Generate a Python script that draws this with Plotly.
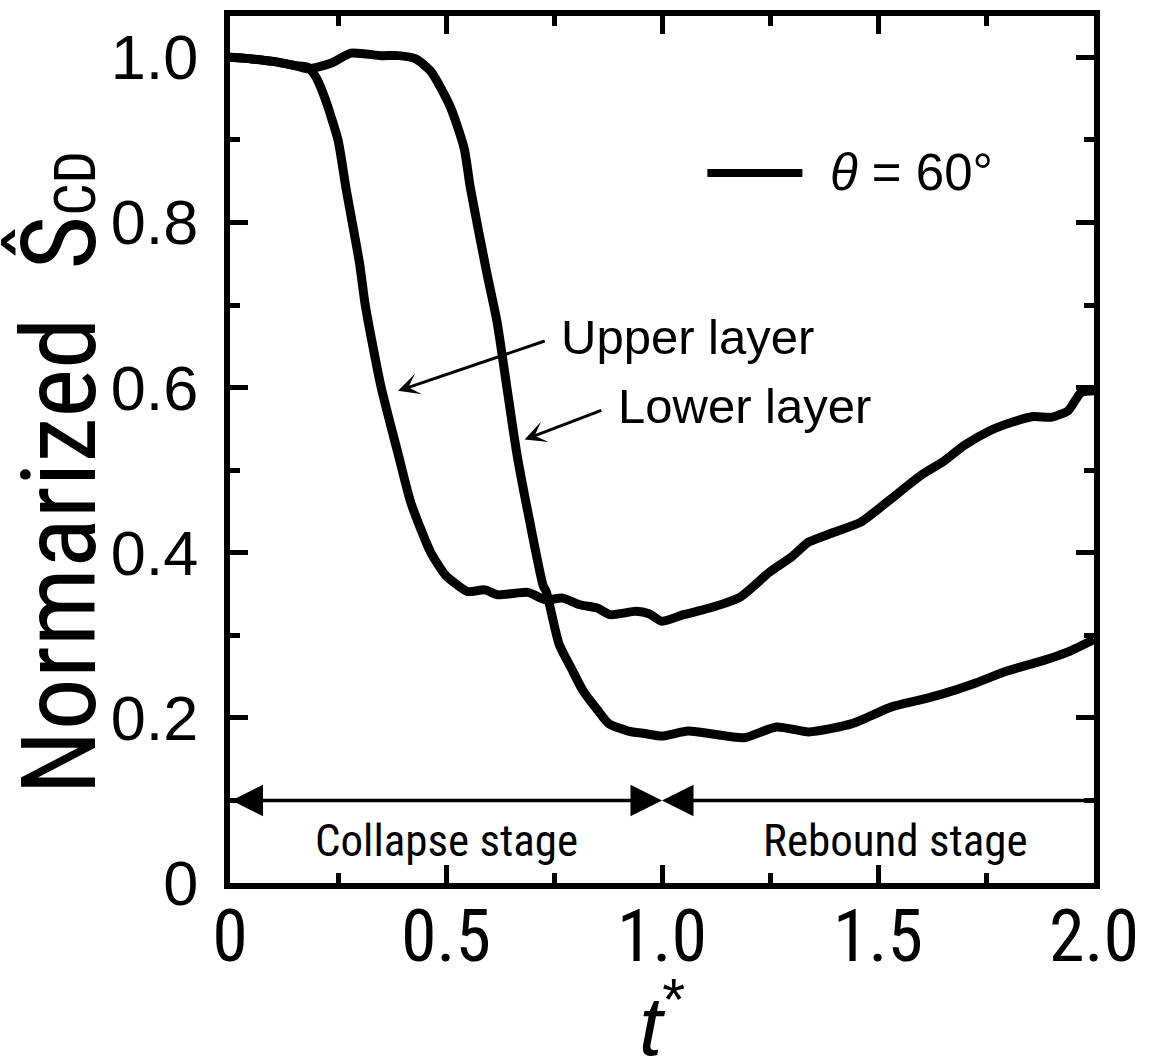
import plotly.graph_objects as go

# ---------------- data ----------------
t_upper = [0.00, 0.05, 0.10, 0.15, 0.18, 0.20, 0.22, 0.25, 0.268, 0.30, 0.313, 0.35,
           0.389, 0.419, 0.465, 0.50, 0.526, 0.55, 0.59, 0.62, 0.66, 0.69, 0.73, 0.77,
           0.81, 0.85, 0.88, 0.94, 0.97, 1.00, 1.05, 1.11, 1.18, 1.25, 1.30, 1.34,
           1.40, 1.46, 1.52, 1.60, 1.65, 1.70, 1.76, 1.81, 1.86, 1.90, 1.94, 1.97, 2.00]
v_upper = [1.000, 0.998, 0.995, 0.990, 0.988, 0.975, 0.950, 0.900, 0.843, 0.750, 0.700, 0.600,
           0.520, 0.460, 0.400, 0.372, 0.361, 0.353, 0.355, 0.349, 0.351, 0.352, 0.343, 0.345,
           0.337, 0.333, 0.325, 0.329, 0.326, 0.317, 0.325, 0.333, 0.346, 0.377, 0.395, 0.413,
           0.425, 0.437, 0.461, 0.494, 0.510, 0.530, 0.548, 0.558, 0.565, 0.564, 0.572, 0.594, 0.596]

t_lower = [0.00, 0.05, 0.10, 0.15, 0.18, 0.235, 0.28, 0.35, 0.39, 0.43, 0.465, 0.51,
           0.542, 0.556, 0.594, 0.618, 0.641, 0.664, 0.693, 0.725, 0.732, 0.762, 0.79,
           0.817, 0.85, 0.877, 0.922, 0.96, 1.00, 1.06, 1.11, 1.19, 1.265, 1.34, 1.44,
           1.53, 1.60, 1.65, 1.72, 1.80, 1.88, 1.94, 2.00]
v_lower = [1.000, 0.998, 0.995, 0.990, 0.986, 0.993, 1.005, 1.002, 1.002, 0.998, 0.983, 0.940,
           0.890, 0.843, 0.740, 0.680, 0.600, 0.520, 0.440, 0.360, 0.353, 0.289, 0.260,
           0.233, 0.210, 0.193, 0.184, 0.181, 0.178, 0.184, 0.181, 0.176, 0.189, 0.183, 0.193,
           0.213, 0.222, 0.229, 0.241, 0.257, 0.269, 0.280, 0.295]

x_tickvals = [0, 0.5, 1.0, 1.5, 2.0]
x_ticktext = ["0", "0.5", "1.0", "1.5", "2.0"]
y_tickvals = [0, 0.2, 0.4, 0.6, 0.8, 1.0]
y_ticktext = ["0", "0.2", "0.4", "0.6", "0.8", "1.0"]

stage_bounds = [0.0, 1.0, 2.0]
stage_names = ["Collapse stage", "Rebound stage"]
stage_arrow_level = 0.10
stage_text_level = 0.052
stage_text_x = [0.50, 1.54]

layer_labels = ["Upper layer", "Lower layer"]
layer_heads = [(0.389, 0.596), (0.682, 0.537)]
layer_tails = [(0.732, 0.657), (0.863, 0.573)]

legend_text = "<i>θ</i> = 60°"
y_title = 'Normarized  Ŝ<span style="font-size:57px">CD</span>'
x_title = "<i>t</i><sup>*</sup>"

NARROW = "Liberation Sans Narrow, Arial Narrow, Roboto Condensed, Liberation Sans, sans-serif"
REG = "Liberation Sans, Arial, Helvetica, sans-serif"

fig = go.Figure()
line_style = dict(color="black", width=9, shape="spline", smoothing=0.6)
fig.add_trace(go.Scatter(x=t_upper, y=v_upper, mode="lines", line=line_style,
                         name="Upper layer", showlegend=False))
fig.add_trace(go.Scatter(x=t_lower, y=v_lower, mode="lines", line=line_style,
                         name="Lower layer", showlegend=False))

annotations = []
# stage arrows
annotations.append(dict(x=stage_bounds[1], y=stage_arrow_level, ax=stage_bounds[0], ay=stage_arrow_level,
                        xref="x", yref="y", axref="x", ayref="y", text="", showarrow=True,
                        arrowside="end+start", arrowhead=2, startarrowhead=2,
                        arrowsize=1.8, startarrowsize=1.8, arrowwidth=3.5, arrowcolor="black",
                        standoff=0, startstandoff=0))
annotations.append(dict(x=stage_bounds[1], y=stage_arrow_level, ax=stage_bounds[2], ay=stage_arrow_level,
                        xref="x", yref="y", axref="x", ayref="y", text="", showarrow=True,
                        arrowside="end", arrowhead=2, arrowsize=1.8, arrowwidth=3.5, arrowcolor="black",
                        standoff=0))
for name, xc in zip(stage_names, stage_text_x):
    annotations.append(dict(x=xc, y=stage_text_level, xref="x", yref="y", text=name, showarrow=False,
                            font=dict(family=NARROW, size=45, color="black")))

# layer labels with arrows
for lab, (hx, hy), (tx, ty) in zip(layer_labels, layer_heads, layer_tails):
    annotations.append(dict(x=hx, y=hy, ax=tx, ay=ty, xref="x", yref="y", axref="x", ayref="y",
                            text="", showarrow=True, arrowhead=3, arrowsize=1.2, arrowwidth=3,
                            arrowcolor="black", standoff=0))
    annotations.append(dict(x=tx + 0.03, y=ty, xref="x", yref="y", text=lab, showarrow=False,
                            xanchor="left", yanchor="middle", yshift=4,
                            font=dict(family=REG, size=49, color="black")))

# legend (manual)
annotations.append(dict(x=1.385, y=0.860, xref="x", yref="y", text=legend_text, showarrow=False,
                        xanchor="left", yanchor="middle",
                        font=dict(family=REG, size=51, color="black")))

# axis titles
annotations.append(dict(x=0.5, y=-0.158, xref="paper", yref="paper", text=x_title,
                        showarrow=False, xanchor="center", yanchor="middle",
                        font=dict(family=REG, size=84, color="black")))
annotations.append(dict(x=-0.197, y=0.473, xref="paper", yref="paper", text=y_title,
                        textangle=-90, showarrow=False, xanchor="center", yanchor="middle",
                        font=dict(family=NARROW, size=104, color="black")))

shapes = [dict(type="line", xref="x", yref="y", x0=1.105, x1=1.325, y0=0.860, y1=0.860,
               line=dict(color="black", width=8))]

axis_common = dict(showgrid=False, zeroline=False, showline=True, linecolor="black", linewidth=6,
                   mirror="ticks", ticks="inside", ticklen=18, tickwidth=5, tickcolor="black",
                   ticklabeloverflow="allow")

fig.update_layout(
    width=1149, height=1064,
    margin=dict(l=230, r=45, t=10, b=181),
    paper_bgcolor="white", plot_bgcolor="white",
    showlegend=False,
    annotations=annotations,
    shapes=shapes,
    xaxis=dict(range=[0, 2.0], tickvals=x_tickvals, ticktext=x_ticktext,
               tickfont=dict(family=NARROW, size=72, color="black"), ticklabelstandoff=-14,
               minor=dict(dtick=0.25, ticks="inside", ticklen=10, tickwidth=5, tickcolor="black"),
               **axis_common),
    yaxis=dict(range=[0, 1.05], tickvals=y_tickvals, ticktext=y_ticktext,
               tickfont=dict(family=REG, size=63, color="black"), ticklabelstandoff=13,
               minor=dict(dtick=0.1, ticks="inside", ticklen=10, tickwidth=5, tickcolor="black"),
               **axis_common),
)

fig.write_html("out.html")
